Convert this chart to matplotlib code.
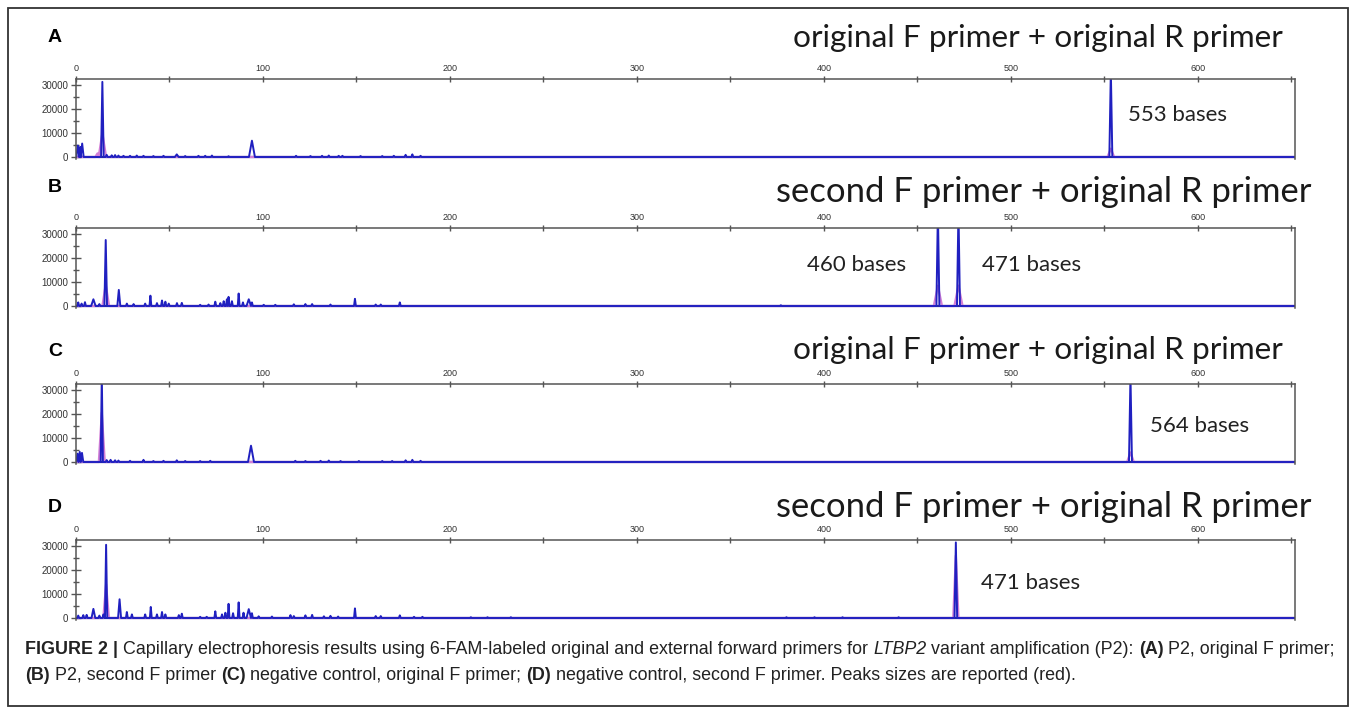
import matplotlib
matplotlib.use("Agg")
import matplotlib.pyplot as plt
from matplotlib.patches import Rectangle

# peaks: (size in bases, height in RFU[, half width])
a_peaks = [(1.0, 4800, 0.8), (2.2, 4200, 0.6), (3.3, 5600, 0.8), (14.1, 31300, 0.7),
           (16.4, 900), (19.1, 700), (20.9, 800), (22.7, 600), (25.4, 500), (28.9, 500),
           (32.5, 600), (36.1, 500), (41.4, 400), (46.8, 500), (53.9, 1100, 1.0), (58.4, 400),
           (65.5, 500), (69.1, 500), (72.7, 600), (81.6, 300), (94.1, 6800, 1.6),
           (117.7, 500), (125.4, 400), (131.6, 500), (135.2, 600), (140.5, 500), (142.5, 500),
           (152.2, 400), (163.8, 400), (170.0, 500), (176.3, 900), (179.9, 1100), (184.3, 500),
           (553.5, 36000, 0.8)]
a_pink = [(11.5, 1500, 1.2), (14.1, 10000, 2.0), (553.5, 3500, 1.8)]

b_peaks = [(1.2, 1500), (3.0, 1000), (4.8, 1600), (9.3, 2800, 1.2), (12.5, 800), (15.9, 27500, 0.7),
           (22.9, 6700, 0.8), (27.2, 1000), (30.8, 800), (37.0, 1000), (39.8, 4300), (43.3, 1200),
           (46.0, 2300), (47.8, 1800), (49.6, 1000), (54.0, 1200), (56.6, 1300), (66.4, 500),
           (70.9, 600), (74.5, 1800), (77.2, 1200), (79.0, 2000), (80.7, 2800), (81.6, 3800),
           (83.4, 2000), (87.0, 5200), (89.3, 1500), (92.4, 2800, 1.2), (94.1, 1500),
           (100.4, 500), (106.6, 500), (116.5, 700), (122.7, 800), (126.3, 800), (136.1, 600),
           (149.2, 3000), (160.3, 600), (163.0, 600), (173.2, 1500), (377.0, 300),
           (461.0, 40000, 0.8), (472.0, 40000, 0.8)]
b_pink = [(15.9, 9000, 1.8), (461.0, 8500, 2.2), (472.0, 8500, 2.2)]

c_peaks = [(0.8, 3500, 0.6), (2.0, 4200, 0.6), (3.2, 3800, 0.7), (13.8, 36000, 0.6),
           (16.4, 800), (18.5, 900), (20.9, 700), (22.7, 600), (28.9, 500), (36.1, 900),
           (41.4, 400), (46.8, 500), (53.9, 700), (58.4, 400), (66.4, 400), (71.8, 500),
           (93.6, 6800, 1.6), (117.3, 500), (122.7, 400), (130.8, 500), (135.2, 600),
           (141.5, 400), (151.3, 400), (163.8, 400), (169.1, 400), (176.3, 700), (179.9, 900),
           (184.3, 500), (564.0, 36000, 0.8)]
c_pink = [(13.8, 20500, 1.6), (564.0, 4000, 1.8)]

d_peaks = [(1.2, 1000), (3.9, 1200), (5.7, 1300), (9.3, 3800, 1.0), (12.5, 1000), (14.7, 1500),
           (16.1, 30500, 0.6), (23.3, 7800, 0.8), (27.2, 2500), (29.9, 1500), (37.0, 1500),
           (40.0, 4600), (43.3, 1500), (46.0, 2500), (47.8, 1500), (55.0, 1200), (56.6, 1800),
           (66.4, 500), (69.9, 500), (74.5, 2800), (78.1, 1500), (79.9, 2200), (81.6, 5900),
           (84.0, 2000), (87.0, 6500), (89.6, 2200), (92.4, 3700, 1.2), (94.1, 2000),
           (97.7, 700), (104.8, 600), (114.7, 1200), (116.5, 800), (122.7, 1100), (126.3, 1300),
           (132.6, 700), (136.1, 900), (140.2, 600), (149.2, 4000), (160.3, 800), (163.0, 800),
           (173.2, 1100), (180.8, 500), (185.3, 500), (211.2, 300), (220.1, 300), (232.6, 300),
           (380.0, 300), (395.0, 300), (410.0, 300), (440.0, 300), (470.6, 31500, 0.7)]
d_pink = [(16.1, 14000, 1.5), (470.6, 26000, 1.4)]

panel_letters = ["A", "B", "C", "D"]
titles = ["original F primer + original R primer",
          "second F primer + original R primer",
          "original F primer + original R primer",
          "second F primer + original R primer"]
peak_labels = [["553 bases"], ["460 bases", "471 bases"], ["564 bases"], ["471 bases"]]
x_ticks = [0, 100, 200, 300, 400, 500, 600]
y_ticks = [0, 10000, 20000, 30000]

caption_1 = [("FIGURE 2 |", "bold", "normal"),
             (" Capillary electrophoresis results using 6-FAM-labeled original and external forward primers for ", "normal", "normal"),
             ("LTBP2", "normal", "italic"),
             (" variant amplification (P2): ", "normal", "normal"),
             ("(A)", "bold", "normal"),
             (" P2, original F primer;", "normal", "normal")]
caption_2 = [("(B)", "bold", "normal"),
             (" P2, second F primer ", "normal", "normal"),
             ("(C)", "bold", "normal"),
             (" negative control, original F primer; ", "normal", "normal"),
             ("(D)", "bold", "normal"),
             (" negative control, second F primer. Peaks sizes are reported (red).", "normal", "normal")]

W, H = 1357, 714
XMAX = 652
YMIN, YMAX = -700, 32400
PX_PER_RFU = 24 / 10000.0
DEF_W = 0.5

TITLE_FONT = ["Lato", "Open Sans", "DejaVu Sans"]
CAP_FONT = ["Liberation Sans Narrow", "Liberation Sans", "DejaVu Sans"]
SANS = ["Liberation Sans", "DejaVu Sans"]

fig = plt.figure(figsize=(W / 100, H / 100), dpi=100)
fig.patch.set_facecolor("white")
renderer = fig.canvas.get_renderer()


def fx(px):
    return px / W


def fy(py):
    return 1 - py / H


def text_width(s, **kw):
    # pad with x so spaces at either end are counted
    t1 = fig.text(0, 0, "x" + s + "x", **kw)
    t2 = fig.text(0, 0, "xx", **kw)
    w = t1.get_window_extent(renderer).width - t2.get_window_extent(renderer).width
    t1.remove()
    t2.remove()
    return w


def fit_size(s, target, **kw):
    return 20 * target / text_width(s, fontsize=20, **kw)


def trace(peaks):
    xs, ys = [0], [0]
    for pk in sorted(peaks):
        p, h = pk[0], pk[1]
        w = pk[2] if len(pk) > 2 else DEF_W
        xs += [p - w, p, p + w]
        ys += [0, h, 0]
    xs.append(XMAX)
    ys.append(0)
    return xs, ys


# layout: (top of axis line, pixel row of 0 RFU)
rows = [(79, 157), (229, 306), (384, 462), (540, 618)]
letter_y = [38, 188, 351, 507]
title_y = [38, 192, 350, 507]
title_right = [1283, 1312, 1283, 1312]
title_width = [490, 535, 490, 535]
label_pos = [[(562.8, 17500)], [(391.0, 16900), (484.6, 16900)], [(574.5, 14800)], [(484.0, 14500)]]

all_peaks = [a_peaks, b_peaks, c_peaks, d_peaks]
all_pink = [a_pink, b_pink, c_pink, d_pink]

for i in range(4):
    top, base = rows[i]
    h_px = (YMAX - YMIN) * PX_PER_RFU
    bottom_px = base + (-YMIN) * PX_PER_RFU
    ax = fig.add_axes([fx(76), fy(bottom_px), fx(1295) - fx(76), h_px / H])
    ax.set_xlim(0, XMAX)
    ax.set_ylim(YMIN, YMAX)

    px, py = trace(all_pink[i])
    ax.plot(px, py, color="#d27fd6", lw=1.6)
    bx, by = trace(all_peaks[i])
    ax.plot(bx, by, color="#2020c0", lw=1.4)
    ax.axhline(0, color="#28289a", lw=1.6, zorder=1.9)

    for s in ["left", "top", "right"]:
        ax.spines[s].set_color("#555555")
        ax.spines[s].set_linewidth(1.1)
    ax.spines["bottom"].set_visible(False)

    ax.xaxis.tick_top()
    ax.set_xticks(x_ticks)
    ax.set_xticks([t + 50 for t in x_ticks], minor=True)
    ax.set_yticks(y_ticks)
    ax.set_yticks([5000, 15000, 25000], minor=True)
    ax.tick_params(axis="x", which="both", direction="inout", length=5, width=1,
                   colors="#555555", labelcolor="#333333", labelsize=6.5, pad=2)
    ax.tick_params(axis="y", which="major", direction="inout", length=7, width=1,
                   colors="#555555", labelcolor="#333333", labelsize=7, pad=2)
    ax.tick_params(axis="y", which="minor", direction="inout", length=4, width=1, colors="#555555")
    for lab in ax.get_xticklabels() + ax.get_yticklabels():
        lab.set_family(SANS)

    for txt, (lx, ly) in zip(peak_labels[i], label_pos[i]):
        size = fit_size(txt, 99, family=TITLE_FONT)
        ax.text(lx, ly, txt, fontsize=size, family=TITLE_FONT, color="#222222",
                ha="left", va="center")

    fig.text(fx(48), fy(letter_y[i]), panel_letters[i], fontsize=14, fontweight="bold",
             family=SANS, ha="left", va="center")
    tsize = fit_size(titles[i], title_width[i], family=TITLE_FONT)
    fig.text(fx(title_right[i]), fy(title_y[i]), titles[i], fontsize=tsize,
             family=TITLE_FONT, color="#1a1a1a", ha="right", va="center")

# caption, sized so the first line spans the frame like the original
cap_size = 20 * 1308 / sum(text_width(t, fontsize=20, fontweight=wt, fontstyle=st, family=CAP_FONT)
                          for t, wt, st in caption_1)
for parts, y in [(caption_1, 649), (caption_2, 676)]:
    x = 25
    for t, wt, st in parts:
        fig.text(fx(x), fy(y), t, fontsize=cap_size, fontweight=wt, fontstyle=st,
                 family=CAP_FONT, color="#222222", ha="left", va="center")
        x += text_width(t, fontsize=cap_size, fontweight=wt, fontstyle=st, family=CAP_FONT)

fig.patches.append(Rectangle((fx(8), fy(706)), fx(1348) - fx(8), (706 - 8) / H,
                             transform=fig.transFigure, fill=False, ec="#333333", lw=1.3))

fig.savefig("out.png", dpi=100)
